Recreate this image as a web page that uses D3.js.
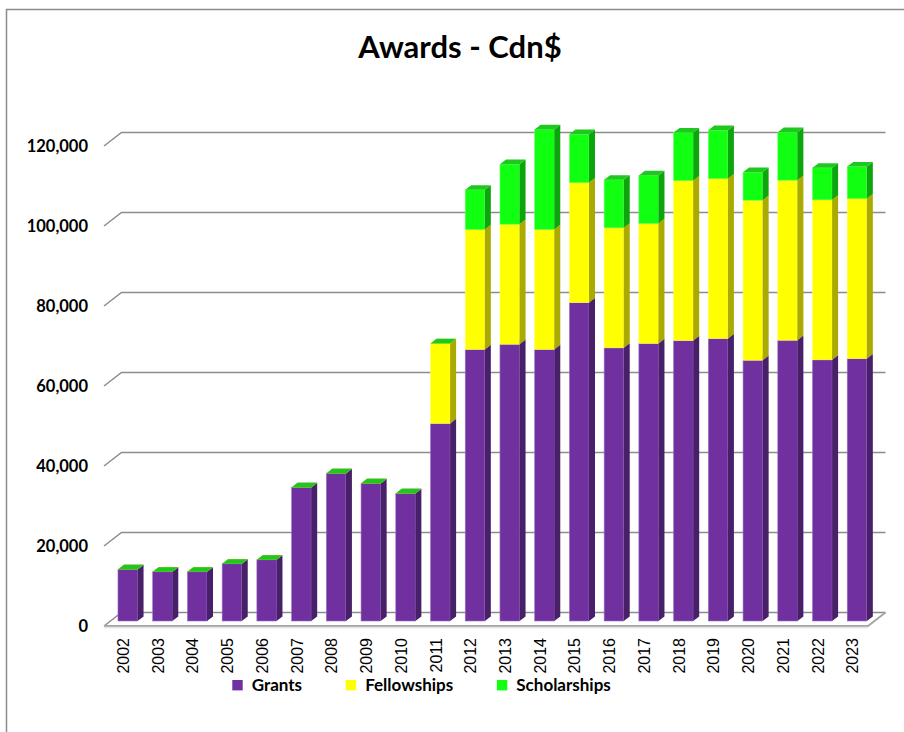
<!DOCTYPE html>
<html>
<head>
<meta charset="utf-8">
<script src="https://cdn.jsdelivr.net/npm/d3@7"></script>
<style>
  body { margin: 0; background: #fff; }
  svg { display: block; }
</style>
</head>
<body>
<svg id="chart" width="904" height="732"></svg>
<script>
// data
var years = ["2002","2003","2004","2005","2006","2007","2008","2009","2010","2011","2012",
             "2013","2014","2015","2016","2017","2018","2019","2020","2021","2022","2023"];
var grants = [12900, 12300, 12300, 14300, 15300, 33400, 36900, 34400, 31900, 49400, 67900,
              69200, 67900, 79600, 68300, 69400, 70100, 70600, 65200, 70200, 65300, 65600];
var fellowships = [0, 0, 0, 0, 0, 0, 0, 0, 0, 20000, 30000,
                   30000, 30000, 30000, 30000, 30000, 40000, 40000, 40000, 40000, 40000, 40000];
var scholarships = [0, 0, 0, 0, 0, 0, 0, 0, 0, 0, 9900,
                    15000, 25000, 12100, 12000, 12000, 12000, 12100, 7000, 12000, 8000, 8000];
var seriesNames = ["Grants", "Fellowships", "Scholarships"];
var yTicks = [0, 20000, 40000, 60000, 80000, 100000, 120000];

function init() {
  var svg = d3.select("#chart");

  // front plane of the floor and the depth of the 3d box
  var left = 104, right = 868, floorFront = 626;
  var depthX = 17.5, depthY = 13.5;       // floor depth
  var barOffX = 6.4, barOffY = 5;         // bar front face inside the floor
  var barDx = 6, barDy = 4.6;             // bar depth

  var colors = {
    Grants:       {front: "#7030a0", side: "#48206a", top: "#8a4fbb", edge: "#9b73c2"},
    Fellowships:  {front: "#ffff00", side: "#aaaa00", top: "#e0e000", edge: "#ffff66"},
    Scholarships: {front: "#11ff11", side: "#0ca60c", top: "#1ec81e", edge: "#66ff66"}
  };

  var table = years.map(function(y, i) {
    return {year: y, Grants: grants[i], Fellowships: fellowships[i], Scholarships: scholarships[i]};
  });
  var stacked = d3.stack().keys(seriesNames)(table);

  var x = d3.scaleBand()
    .domain(years)
    .range([left, right])
    .paddingInner(0.436)
    .paddingOuter(0.218);

  // value scale on the front plane (labels), the bars and back wall are shifted from it
  var y = d3.scaleLinear()
    .domain([0, 120000])
    .range([floorFront, floorFront - 480]);

  // border of the chart area
  svg.append("rect")
    .attr("x", 6.5).attr("y", 9.5)
    .attr("width", 1000).attr("height", 1000)
    .attr("fill", "none")
    .attr("stroke", "#8c8c8c")
    .attr("stroke-width", 1.5);

  // title
  svg.append("text")
    .attr("x", 460).attr("y", 58)
    .attr("text-anchor", "middle")
    .style("font", "bold 31px Lato, sans-serif")
    .attr("fill", "#000")
    .text("Awards - Cdn$");

  // gridlines: back wall line plus the small diagonal at the left
  var grid = svg.append("g").attr("class", "grid")
    .attr("stroke", "#8c8c8c").attr("stroke-width", 1.5).attr("fill", "none");
  grid.selectAll("path")
    .data(yTicks)
    .enter().append("path")
      .attr("d", function(d) {
        var yf = y(d), yb = y(d) - depthY;
        return "M" + left + "," + yf + "L" + (left + depthX) + "," + yb + "L" + (right + depthX) + "," + yb;
      });

  // floor
  svg.append("path")
    .attr("d", "M" + left + "," + floorFront + "L" + right + "," + floorFront +
               "L" + (right + depthX) + "," + (floorFront - depthY))
    .attr("fill", "none")
    .attr("stroke", "#a6a6a6")
    .attr("stroke-width", 2);
  svg.append("line")
    .attr("x1", left).attr("x2", right)
    .attr("y1", floorFront + 1.5).attr("y2", floorFront + 1.5)
    .attr("stroke", "#e4e4e4").attr("stroke-width", 1.5);

  // bars: one group per year, segments drawn bottom to top
  var bw = x.bandwidth();
  var yearGroups = svg.append("g").attr("class", "bars")
    .selectAll("g")
    .data(years)
    .enter().append("g");

  yearGroups.each(function(yr, i) {
    var g = d3.select(this);
    var bx = x(yr) + barOffX;
    var segs = stacked.map(function(layer) {
      return {key: layer.key, y0: layer[i][0], y1: layer[i][1]};
    });
    var seg = g.selectAll("g")
      .data(segs)
      .enter().append("g");

    seg.append("rect")
      .attr("x", bx)
      .attr("y", function(d) { return y(d.y1) - barOffY; })
      .attr("width", bw)
      .attr("height", function(d) { return y(d.y0) - y(d.y1); })
      .attr("fill", function(d) { return colors[d.key].front; })
      .attr("stroke", function(d) { return colors[d.key].edge; })
      .attr("stroke-width", 0.6);

    seg.append("path")
      .attr("d", function(d) {
        var t = y(d.y1) - barOffY, b = y(d.y0) - barOffY;
        return "M" + (bx + bw) + "," + t + "L" + (bx + bw + barDx) + "," + (t - barDy) +
               "L" + (bx + bw + barDx) + "," + (b - barDy) + "L" + (bx + bw) + "," + b + "Z";
      })
      .attr("fill", function(d) { return colors[d.key].side; });

    seg.append("path")
      .attr("d", function(d) {
        var t = y(d.y1) - barOffY;
        return "M" + bx + "," + t + "L" + (bx + barDx) + "," + (t - barDy) +
               "L" + (bx + bw + barDx) + "," + (t - barDy) + "L" + (bx + bw) + "," + t + "Z";
      })
      .attr("fill", function(d) { return colors[d.key].top; });
  });

  // y axis labels
  var yAxis = svg.append("g")
    .attr("transform", "translate(88,0)")
    .call(d3.axisLeft(y).tickValues(yTicks).tickFormat(d3.format(",")).tickSize(0).tickPadding(0));
  yAxis.select(".domain").remove();
  yAxis.selectAll("text")
    .style("font", "bold 16.5px Lato, sans-serif")
    .attr("fill", "#000");

  // x axis labels
  var xAxis = svg.append("g")
    .attr("transform", "translate(0,638)")
    .call(d3.axisBottom(x).tickSize(0).tickPadding(0));
  xAxis.select(".domain").remove();
  xAxis.selectAll("text")
    .attr("transform", "rotate(-90)")
    .attr("x", 0)
    .attr("y", 2)
    .attr("dy", "0.35em")
    .attr("text-anchor", "end")
    .style("font", "16px 'Liberation Sans', Arial, sans-serif")
    .attr("fill", "#000");

  // legend
  var legend = svg.append("g").attr("class", "legend");
  var lx = 232.3;
  seriesNames.forEach(function(name) {
    legend.append("rect")
      .attr("x", lx).attr("y", 680)
      .attr("width", 10.4).attr("height", 10.4)
      .attr("fill", colors[name].front);
    var t = legend.append("text")
      .attr("x", lx + 19.4).attr("y", 691)
      .style("font", "bold 17px Lato, sans-serif")
      .attr("fill", "#000")
      .text(name);
    lx += 19.4 + t.node().getComputedTextLength() + 43.7;
  });
}

window.onload = init;
</script>
</body>
</html>
